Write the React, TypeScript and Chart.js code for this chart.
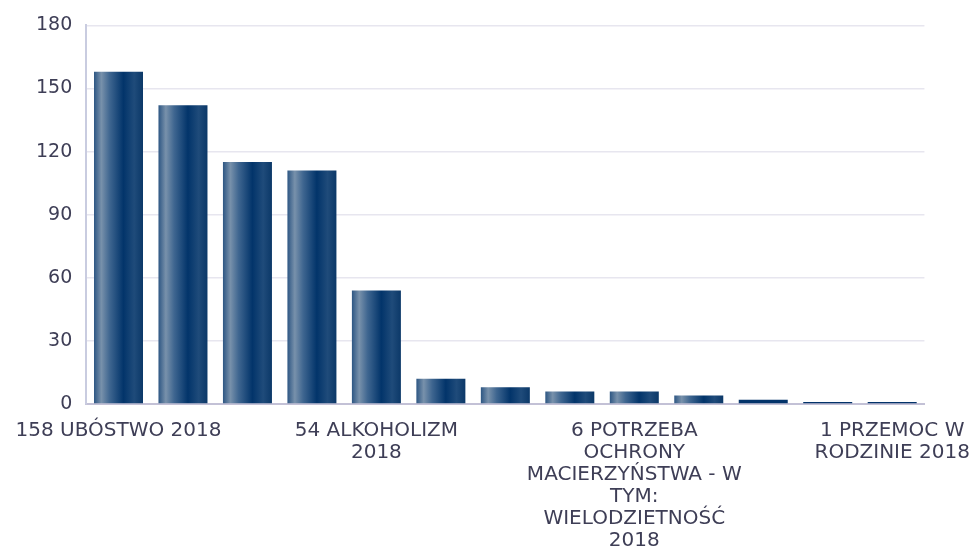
import React, { useEffect, useRef } from "react";
import { Chart, registerables } from "chart.js";

Chart.register(...registerables);

const categories: string[] = [
  "158 UBÓSTWO 2018",
  "142 BEZROBOCIE 2018",
  "115 DŁUGOTRWAŁA LUB CIĘŻKA CHOROBA 2018",
  "111 NIEPEŁNOSPRAWNOŚĆ 2018",
  "54 ALKOHOLIZM 2018",
  "12 BEZRADNOŚĆ W SPRAWACH OPIEKUŃCZO-WYCHOWAWCZYCH 2018",
  "8 BEZDOMNOŚĆ 2018",
  "6 TRUDNOŚCI W PRZYSTOSOWANIU DO ŻYCIA PO ZWOLNIENIU Z ZAKŁADU KARNEGO 2018",
  "6 POTRZEBA OCHRONY MACIERZYŃSTWA - W TYM: WIELODZIETNOŚĆ 2018",
  "4 ZDARZENIE LOSOWE 2018",
  "2 SYTUACJA KRYZYSOWA 2018",
  "1 NARKOMANIA 2018",
  "1 PRZEMOC W RODZINIE 2018",
];

const values: number[] = [158, 142, 115, 111, 54, 12, 8, 6, 6, 4, 2, 1, 1];

const yTicks: number[] = [0, 30, 60, 90, 120, 150, 180];

const shownEvery = 4;
const maxChars = 17;

function wrap(text: string): string[] {
  const words = text.split(" ");
  const lines: string[] = [];
  let cur = "";
  for (const w of words) {
    const next = cur ? cur + " " + w : w;
    if (next.length > maxChars && cur) {
      lines.push(cur);
      cur = w;
    } else {
      cur = next;
    }
  }
  if (cur) lines.push(cur);
  return lines;
}

const BAR_PCT = 0.76;

export default function App() {
  const ref = useRef<HTMLCanvasElement | null>(null);

  useEffect(() => {
    document.body.style.margin = "0";
    const canvas = ref.current;
    if (!canvas) return;
    const chart = new Chart(canvas, {
      type: "bar",
      data: {
        labels: categories,
        datasets: [
          {
            data: values,
            barPercentage: BAR_PCT,
            categoryPercentage: 1,
            borderWidth: 0,
            backgroundColor: (ctx: any) => {
              const c = ctx.chart;
              const xs = c.scales && c.scales.x;
              const solid = "#03336a";
              if (!xs || !c.chartArea || ctx.type !== "data") return solid;
              if (ctx.raw < 3) return solid;
              const center = xs.getPixelForValue(ctx.dataIndex);
              const w = (xs.width / categories.length) * BAR_PCT;
              const g = c.ctx.createLinearGradient(center - w / 2, 0, center + w / 2, 0);
              g.addColorStop(0, "#2d5683");
              g.addColorStop(0.15, "#7891ab");
              g.addColorStop(0.32, "#3f6690");
              g.addColorStop(0.6, "#02346a");
              g.addColorStop(0.82, "#1f4b7a");
              g.addColorStop(1, "#0b3868");
              return g;
            },
          },
        ],
      },
      options: {
        animation: false,
        responsive: true,
        maintainAspectRatio: false,
        layout: { padding: { top: 14, left: 22, right: 3, bottom: -10 } },
        plugins: {
          legend: { display: false },
          tooltip: { enabled: false },
        },
        scales: {
          x: {
            grid: { display: false, drawTicks: true, tickLength: 11 },
            border: { display: true, color: "#c3c1d6", width: 2 },
            ticks: {
              autoSkip: false,
              maxRotation: 0,
              minRotation: 0,
              padding: 5,
              color: "#3e3e56",
              font: { family: "'DejaVu Sans', sans-serif", size: 20, lineHeight: 1.1 },
              callback: function (this: any, value: any, index: number) {
                if (index % shownEvery !== 0) return "";
                return wrap(this.getLabelForValue(value));
              },
            },
          },
          y: {
            min: yTicks[0],
            max: yTicks[yTicks.length - 1],
            afterBuildTicks: (axis: any) => {
              axis.ticks = yTicks.map((v) => ({ value: v }));
            },
            grid: { color: "#e7e6ef", lineWidth: 1.5, drawTicks: false },
            border: { display: true, color: "#c9cce0", width: 2 },
            ticks: {
              padding: 14,
              color: "#3e3e56",
              font: { family: "'DejaVu Sans', sans-serif", size: 19 },
            },
          },
        },
      },
    });
    return () => chart.destroy();
  }, []);

  return (
    <div style={{ width: 975, height: 547, position: "relative" }}>
      <canvas ref={ref} />
    </div>
  );
}
